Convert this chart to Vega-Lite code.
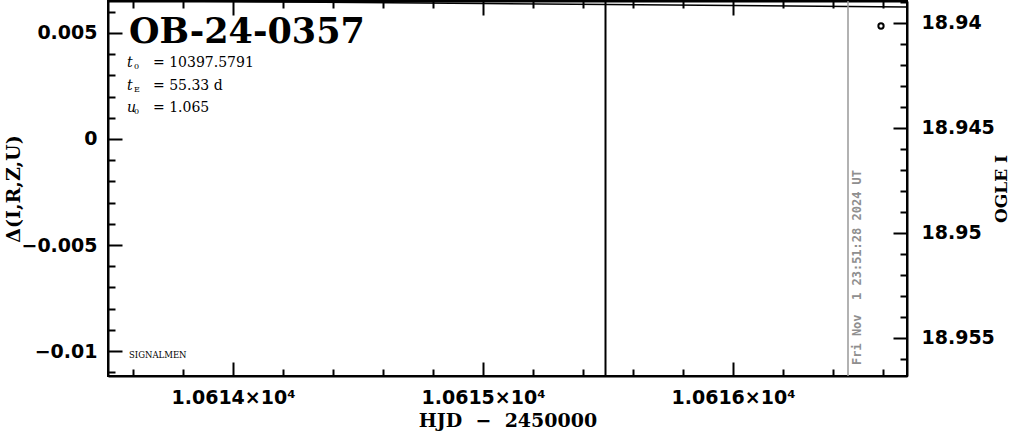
{
  "$schema": "https://vega.github.io/schema/vega-lite/v6.json",
  "width": 799,
  "height": 375,
  "autosize": "none",
  "padding": {"left": 108, "top": 1, "right": 104, "bottom": 58},
  "background": "white",
  "config": {
    "view": {"stroke": "black", "strokeWidth": 2},
    "axis": {
      "grid": false,
      "domainColor": "black",
      "domainWidth": 2,
      "tickColor": "black",
      "tickWidth": 2,
      "labelColor": "black",
      "titleColor": "black",
      "labelFont": "DejaVu Sans",
      "labelFontWeight": "bold",
      "labelFontSize": 19,
      "titleFont": "DejaVu Serif",
      "titleFontWeight": "bold",
      "titleFontSize": 18,
      "labelFlush": false,
      "labelOverlap": false
    }
  },
  "datasets": {
    "title": [{"x": 10613.584, "y": 0.005047, "t": "OB-24-0357"}],
    "params": [
      {"x": 10613.576, "y": 0.003585, "sym": "t", "sub": "0", "rest": "=  10397.5791"},
      {"x": 10613.576, "y": 0.0025, "sym": "t", "sub": "E", "rest": "=  55.33 d"},
      {"x": 10613.576, "y": 0.001462, "sym": "u", "sub": "0", "rest": "=  1.065"}
    ],
    "signalmen": [{"x": 10613.584, "y": -0.010189, "t": "SIGNALMEN"}],
    "stamp": [{"x": 10616.496, "y": -0.010661, "t": "Fri Nov \u00a01 23:51:28 2024 UT"}],
    "model": [
      {"x": 10613.5, "y": 18.93895},
      {"x": 10614.0, "y": 18.939},
      {"x": 10614.5, "y": 18.93905},
      {"x": 10615.0, "y": 18.9391},
      {"x": 10615.5, "y": 18.93914},
      {"x": 10616.0, "y": 18.93919},
      {"x": 10616.7, "y": 18.93926}
    ],
    "obs": [{"x": 10616.592, "y": 18.940166}],
    "blackline": [{"x": 10615.49}],
    "grayline": [{"x": 10616.46}]
  },
  "layer": [
    {
      "encoding": {
        "x": {
          "field": "x", "type": "quantitative",
          "scale": {"domain": [10613.5, 10616.696], "nice": false, "zero": false},
          "axis": {
            "orient": "bottom",
            "values": [10614, 10615, 10616],
            "labelExpr": "format(datum.value/10000, '.4f') + '×10⁴'",
            "tickSize": -14,
            "labelPadding": 26,
            "title": "HJD \u00a0−\u00a0 2450000",
            "titleFontSize": 19,
            "titlePadding": 4
          }
        },
        "y": {
          "field": "y", "type": "quantitative",
          "scale": {"domain": [-0.011179, 0.006509], "nice": false, "zero": false},
          "axis": {
            "orient": "left",
            "values": [-0.01, -0.005, 0, 0.005],
            "labelExpr": "format(datum.value, '')",
            "tickSize": -14,
            "labelPadding": 25,
            "title": "Δ(I,R,Z,U)",
            "titleFontSize": 19,
            "titlePadding": -3
          }
        }
      },
      "layer": [
        {
          "data": {"name": "title"},
          "mark": {"type": "text", "align": "left", "baseline": "middle", "font": "DejaVu Serif", "fontWeight": "bold", "fontSize": 35, "color": "black"},
          "encoding": {"text": {"field": "t"}}
        },
        {
          "data": {"name": "params"},
          "mark": {"type": "text", "align": "left", "baseline": "middle", "font": "DejaVu Serif", "fontStyle": "italic", "fontSize": 14, "color": "black"},
          "encoding": {"text": {"field": "sym"}}
        },
        {
          "data": {"name": "params"},
          "mark": {"type": "text", "align": "left", "baseline": "middle", "font": "DejaVu Serif", "fontSize": 8, "dx": 7, "dy": 4, "color": "black"},
          "encoding": {"text": {"field": "sub"}}
        },
        {
          "data": {"name": "params"},
          "mark": {"type": "text", "align": "left", "baseline": "middle", "font": "DejaVu Serif", "fontSize": 14, "dx": 26, "color": "black"},
          "encoding": {"text": {"field": "rest"}}
        },
        {
          "data": {"name": "signalmen"},
          "mark": {"type": "text", "align": "left", "baseline": "middle", "font": "DejaVu Serif", "fontSize": 8.5, "color": "black"},
          "encoding": {"text": {"field": "t"}}
        },
        {
          "data": {"name": "stamp"},
          "mark": {"type": "text", "align": "left", "baseline": "middle", "angle": 270, "font": "DejaVu Sans Mono", "fontWeight": "bold", "fontSize": 12, "color": "#8f8f8f"},
          "encoding": {"text": {"field": "t"}}
        }
      ]
    },
    {
      "data": {"name": "signalmen"},
      "mark": {"type": "point", "opacity": 0},
      "encoding": {
        "x": {
          "field": "x", "type": "quantitative",
          "scale": {"domain": [10613.5, 10616.696], "nice": false, "zero": false},
          "axis": {
            "orient": "bottom",
            "values": [10613.6, 10613.8, 10614.2, 10614.4, 10614.6, 10614.8, 10615.2, 10615.4, 10615.6, 10615.8, 10616.2, 10616.4, 10616.6],
            "labels": false, "domain": false, "tickSize": -7, "title": null
          }
        },
        "y": {
          "field": "y", "type": "quantitative",
          "scale": {"domain": [-0.011179, 0.006509], "nice": false, "zero": false},
          "axis": {
            "orient": "left",
            "values": [-0.011, -0.009, -0.008, -0.007, -0.006, -0.004, -0.003, -0.002, -0.001, 0.001, 0.002, 0.003, 0.004, 0.006],
            "labels": false, "domain": false, "tickSize": -7, "title": null
          }
        }
      }
    },
    {
      "encoding": {
        "x": {
          "field": "x", "type": "quantitative",
          "scale": {"domain": [10613.5, 10616.696], "nice": false, "zero": false},
          "axis": {
            "orient": "top",
            "values": [10614, 10615, 10616],
            "labels": false,
            "tickSize": -14,
            "title": null
          }
        },
        "y": {
          "field": "y", "type": "quantitative",
          "scale": {"domain": [18.938976, 18.956833], "reverse": true, "nice": false, "zero": false},
          "axis": {
            "orient": "right",
            "values": [18.94, 18.945, 18.95, 18.955],
            "labelExpr": "format(datum.value, '')",
            "tickSize": -14,
            "labelPadding": 28,
            "title": "OGLE I",
            "titleFontSize": 17,
            "titleAngle": 270,
            "titlePadding": 16
          }
        }
      },
      "layer": [
        {
          "data": {"name": "model"},
          "mark": {"type": "line", "color": "black", "strokeWidth": 1.5, "clip": true}
        },
        {
          "data": {"name": "obs"},
          "mark": {"type": "point", "shape": "circle", "filled": false, "size": 28, "strokeWidth": 2, "color": "black", "opacity": 1}
        }
      ]
    },
    {
      "data": {"name": "obs"},
      "mark": {"type": "point", "opacity": 0},
      "encoding": {
        "x": {
          "field": "x", "type": "quantitative",
          "scale": {"domain": [10613.5, 10616.696], "nice": false, "zero": false},
          "axis": {
            "orient": "top",
            "values": [10613.6, 10613.8, 10614.2, 10614.4, 10614.6, 10614.8, 10615.2, 10615.4, 10615.6, 10615.8, 10616.2, 10616.4, 10616.6],
            "labels": false, "domain": false, "tickSize": -7, "title": null
          }
        },
        "y": {
          "field": "y", "type": "quantitative",
          "scale": {"domain": [18.938976, 18.956833], "reverse": true, "nice": false, "zero": false},
          "axis": {
            "orient": "right",
            "values": [18.939, 18.941, 18.942, 18.943, 18.944, 18.946, 18.947, 18.948, 18.949, 18.951, 18.952, 18.953, 18.954, 18.956],
            "labels": false, "domain": false, "tickSize": -7, "title": null
          }
        }
      }
    },
    {
      "data": {"name": "blackline"},
      "mark": {"type": "rule", "color": "black", "strokeWidth": 2},
      "encoding": {
        "x": {"field": "x", "type": "quantitative", "scale": {"domain": [10613.5, 10616.696], "nice": false, "zero": false}, "axis": null}
      }
    },
    {
      "data": {"name": "grayline"},
      "mark": {"type": "rule", "color": "#999999", "strokeWidth": 1.5},
      "encoding": {
        "x": {"field": "x", "type": "quantitative", "scale": {"domain": [10613.5, 10616.696], "nice": false, "zero": false}, "axis": null}
      }
    }
  ],
  "resolve": {
    "scale": {"y": "independent"},
    "axis": {"x": "independent", "y": "independent"}
  }
}
